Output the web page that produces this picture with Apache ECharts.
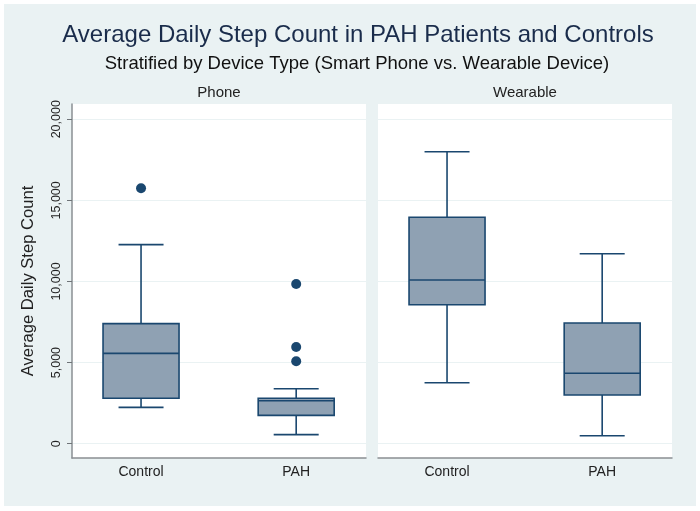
<!DOCTYPE html>
<html>
<head>
<meta charset="utf-8">
<script src="https://cdn.jsdelivr.net/npm/echarts@6/dist/echarts.min.js"></script>
<style>html,body{margin:0;padding:0;background:#fff}#c{width:700px;height:511px}</style>
</head>
<body>
<div id="c"></div>
<script>
// ---- data ----
const categories = ['Control', 'PAH'];
const panels = ['Phone', 'Wearable'];
// [lower whisker, Q1, median, Q3, upper whisker]
const phoneBox = [[2240, 2800, 5570, 7400, 12270], [560, 1750, 2650, 2800, 3390]];
const wearableBox = [[3760, 8570, 10090, 13960, 18000], [490, 3000, 4340, 7440, 11710]];
// [category index, value]
const phoneOutliers = [[0, 15750], [1, 9850], [1, 5960], [1, 5080]];
const wearableOutliers = [];
const yTicks = [0, 5000, 10000, 15000, 20000];
const titleText = 'Average Daily Step Count in PAH Patients and Controls';
const subtitleText = 'Stratified by Device Type (Smart Phone vs. Wearable Device)';
const yTitle = 'Average Daily Step Count';

// ---- style ----
const FONT = '"Liberation Sans", Arial, Helvetica, sans-serif';
const NAVY = '#1a476f';
const FILL = '#8fa1b3';
const BG = '#eaf2f3';
const Y_MIN = -880, Y_MAX = 20940;
const X_MIN = 0.555, X_MAX = 2.45;

const fmt = v => String(v).replace(/\B(?=(\d{3})+(?!\d))/g, ',');

function boxData(arr) {
  return arr.map((b, i) => [i + 1].concat(b));
}
function outData(arr) {
  return arr.map(o => [o[0] + 1, o[1]]);
}

function renderBox(params, api) {
  const x = api.value(0);
  const lo = api.coord([x, api.value(1)]);
  const q1 = api.coord([x, api.value(2)]);
  const med = api.coord([x, api.value(3)]);
  const q3 = api.coord([x, api.value(4)]);
  const hi = api.coord([x, api.value(5)]);
  const boxW = 76, capW = 45;
  const cx = lo[0];
  const ls = { stroke: NAVY, lineWidth: 1.6 };
  return {
    type: 'group',
    children: [
      { type: 'line', shape: { x1: cx, y1: q3[1], x2: cx, y2: hi[1] }, style: ls },
      { type: 'line', shape: { x1: cx, y1: q1[1], x2: cx, y2: lo[1] }, style: ls },
      { type: 'line', shape: { x1: cx - capW / 2, y1: hi[1], x2: cx + capW / 2, y2: hi[1] }, style: ls },
      { type: 'line', shape: { x1: cx - capW / 2, y1: lo[1], x2: cx + capW / 2, y2: lo[1] }, style: ls },
      { type: 'rect', shape: { x: cx - boxW / 2, y: q3[1], width: boxW, height: q1[1] - q3[1] },
        style: { fill: FILL, stroke: NAVY, lineWidth: 1.6 } },
      { type: 'line', shape: { x1: cx - boxW / 2, y1: med[1], x2: cx + boxW / 2, y2: med[1] }, style: ls }
    ]
  };
}

const grids = [
  { left: 72, top: 104, width: 294, height: 354 },
  { left: 378, top: 104, width: 294, height: 354 }
].map(g => Object.assign(g, { show: true, backgroundColor: '#ffffff', borderWidth: 0, containLabel: false }));

const xAxes = [0, 1].map(i => ({
  type: 'value', gridIndex: i, min: X_MIN, max: X_MAX,
  axisLine: { show: true, onZero: false, lineStyle: { color: '#8a8f93', width: 1.5 } },
  axisTick: { show: false },
  splitLine: { show: false },
  axisLabel: {
    customValues: [1, 2], formatter: v => categories[Math.round(v) - 1] || '',
    color: '#222', fontSize: 14, fontFamily: FONT, margin: 7
  }
}));

const yAxes = [0, 1].map(i => ({
  type: 'value', gridIndex: i, min: Y_MIN, max: Y_MAX,
  name: i === 0 ? yTitle : '', nameLocation: 'middle', nameRotate: 90, nameGap: 35,
  nameTextStyle: { color: '#222', fontSize: 16.6, fontFamily: FONT },
  axisLine: { show: i === 0, lineStyle: { color: '#8a8f93', width: 1.5 } },
  axisTick: { show: i === 0, customValues: yTicks, length: 5, lineStyle: { color: '#6f7478', width: 1 } },
  splitLine: { show: true, lineStyle: { color: BG, width: 1.2 } },
  axisLabel: {
    show: i === 0, customValues: yTicks, formatter: fmt, rotate: 90,
    align: 'center', verticalAlign: 'bottom',
    color: '#222', fontSize: 12.5, fontFamily: FONT, margin: 9
  }
}));

const series = [];
[phoneBox, wearableBox].forEach((b, i) => {
  series.push({
    type: 'custom', xAxisIndex: i, yAxisIndex: i, renderItem: renderBox,
    data: boxData(b), encode: { x: 0, y: [1, 2, 3, 4, 5] }, z: 2
  });
});
[phoneOutliers, wearableOutliers].forEach((o, i) => {
  series.push({
    type: 'scatter', xAxisIndex: i, yAxisIndex: i, data: outData(o),
    symbol: 'circle', symbolSize: 10, itemStyle: { color: NAVY, opacity: 1 }, z: 3
  });
});

const chart = echarts.init(document.getElementById('c'), null, { renderer: 'canvas' });
chart.setOption({
  animation: false,
  backgroundColor: '#ffffff',
  graphic: [
    { type: 'rect', z: -10, shape: { x: 4, y: 4, width: 692, height: 502 }, style: { fill: BG } },
    { type: 'text', x: 358, y: 35, style: { text: titleText, textAlign: 'center', textVerticalAlign: 'middle', font: '24px ' + FONT, fill: '#1a2c4b' } },
    { type: 'text', x: 357, y: 64, style: { text: subtitleText, textAlign: 'center', textVerticalAlign: 'middle', font: '18.5px ' + FONT, fill: '#111' } },
    { type: 'text', x: 219, y: 93, style: { text: panels[0], textAlign: 'center', textVerticalAlign: 'middle', font: '15px ' + FONT, fill: '#222' } },
    { type: 'text', x: 525, y: 93, style: { text: panels[1], textAlign: 'center', textVerticalAlign: 'middle', font: '15px ' + FONT, fill: '#222' } }
  ],
  grid: grids,
  xAxis: xAxes,
  yAxis: yAxes,
  series: series
});
</script>
</body>
</html>
